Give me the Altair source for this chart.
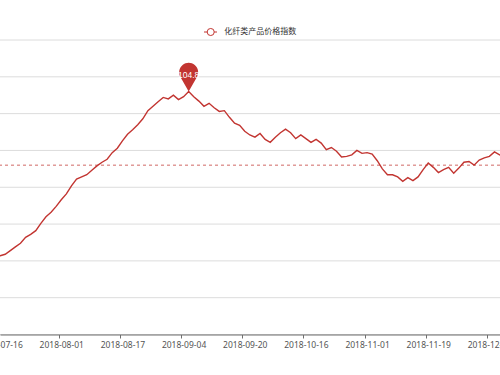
import json
import altair as alt
import pandas as pd

RED = "#c23531"

series_name = "化纤类产品价格指数"
first_index = -1
index_values = [
    102.55, 102.57, 102.59, 102.64, 102.69, 102.74, 102.82, 102.86, 102.91, 103.01,
    103.10, 103.16, 103.24, 103.33, 103.41, 103.52, 103.61, 103.64, 103.67, 103.73,
    103.79, 103.84, 103.88, 103.97, 104.03, 104.13, 104.22, 104.28, 104.35, 104.43,
    104.54, 104.60, 104.66, 104.72, 104.70, 104.75, 104.69, 104.73, 104.80, 104.73,
    104.67, 104.60, 104.64, 104.58, 104.53, 104.54, 104.45, 104.37, 104.34, 104.26,
    104.21, 104.18, 104.23, 104.15, 104.11, 104.18, 104.24, 104.29, 104.24, 104.16,
    104.21, 104.16, 104.11, 104.15, 104.10, 104.01, 104.04, 103.99, 103.91, 103.92,
    103.94, 104.00, 103.96, 103.97, 103.95, 103.86, 103.75, 103.67, 103.67, 103.64,
    103.58, 103.63, 103.59, 103.64, 103.74, 103.83, 103.77, 103.70, 103.74, 103.77,
    103.69, 103.76, 103.84, 103.85, 103.80, 103.87, 103.90, 103.92, 103.98, 103.94,
    103.92,
]
tick_labels = [
    "2018-07-16", "2018-08-01", "2018-08-17", "2018-09-04", "2018-09-20",
    "2018-10-16", "2018-11-01", "2018-11-19", "2018-12-05",
]
label_step = 12
average_value = [103.80]
y_ticks = [101.5, 102.0, 102.5, 103.0, 103.5, 104.0, 104.5, 105.0, 105.5]

df = pd.DataFrame({
    "i": list(range(first_index, first_index + len(index_values))),
    "v": index_values,
})
peak_df = df.loc[[df["v"].idxmax()]].copy()
peak_df["label"] = peak_df["v"].map(lambda v: f"{v:.1f}")
avg_df = pd.DataFrame({"avg": average_value})
grid_df = pd.DataFrame({"g": y_ticks})
one = pd.DataFrame({"k": [0]})

label_expr = (json.dumps(tick_labels, ensure_ascii=False)
              + f"[round(datum.value / {label_step})]")

x_enc = alt.X(
    "i:Q",
    scale=alt.Scale(domain=[-0.02, 98.08], nice=False, zero=False),
    axis=alt.Axis(
        values=[k * label_step for k in range(len(tick_labels))],
        tickCount=20,
        labelExpr=label_expr,
        title=None,
        grid=False,
        domainColor="#6e6e6e",
        tickColor="#6e6e6e",
        tickSize=3.5,
        tickOffset=-2.55,
        labelOffset=2.55,
        labelColor="#555555",
        labelFont="Noto Sans",
        labelFontSize=8.5,
        labelPadding=2,
        labelFlush=False,
        labelOverlap=False,
        labelBound=False,
        zindex=2,
    ),
)
y_scale = alt.Scale(domain=[101.5, 105.5], nice=False, zero=False)
y_enc = alt.Y("v:Q", scale=y_scale, axis=None)

grid = alt.Chart(grid_df).mark_rule(color="#dcdcdc", strokeWidth=1).encode(
    y=alt.Y("g:Q", scale=y_scale, axis=None)
)

line = alt.Chart(df).mark_line(color=RED, strokeWidth=1.4, clip=True).encode(
    x=x_enc, y=y_enc
)

avg_rule = alt.Chart(avg_df).mark_rule(
    color=RED, strokeWidth=1, strokeDash=[3, 3], opacity=0.75
).encode(y=alt.Y("avg:Q", scale=y_scale))

PIN = "M0,0 L-0.827,-1.462 A0.95,0.95 0 1 1 0.827,-1.462 Z"
pin = alt.Chart(peak_df).mark_point(
    shape=PIN, size=400, filled=True, color=RED, opacity=1, strokeWidth=0
).encode(x="i:Q", y="v:Q")
pin_text = alt.Chart(peak_df).mark_text(
    dy=-17, color="white", fontSize=8.5, font="Liberation Sans", baseline="middle"
).encode(x="i:Q", y="v:Q", text="label:N")

leg_line = alt.Chart(one).mark_rule(color=RED, strokeWidth=1).encode(
    x=alt.value(204), x2=alt.value(217), y=alt.value(-8)
)
leg_dot = alt.Chart(one).mark_point(
    shape="circle", size=50, fill="white", stroke=RED, strokeWidth=1, opacity=1
).encode(x=alt.value(210.7), y=alt.value(-8))
leg_text = alt.Chart(one).mark_text(
    text=series_name, align="left", baseline="middle", fontSize=8,
    font="Noto Sans CJK SC", color="#333333"
).encode(x=alt.value(224.3), y=alt.value(-8))

chart = alt.layer(
    grid, line, avg_rule, pin, pin_text, leg_line, leg_dot, leg_text
).properties(
    width=500, height=294.5,
    autosize=alt.AutoSizeParams(type="none"),
    padding={"left": 0, "right": 0, "top": 40, "bottom": 40.5},
    background="white",
).configure_view(stroke=None)

chart.save("out.html", embed_options={"renderer": "svg", "actions": False})
